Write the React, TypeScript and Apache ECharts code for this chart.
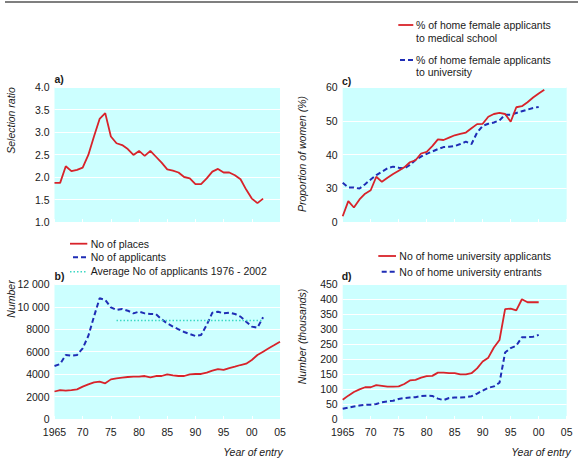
import React, { useEffect, useRef } from "react";
import * as echarts from "echarts";

// ---------- data ----------
const YEARS_A = [1965,1966,1967,1968,1969,1970,1971,1972,1973,1974,1975,1976,1977,1978,1979,1980,1981,1982,1983,1984,1985,1986,1987,1988,1989,1990,1991,1992,1993,1994,1995,1996,1997,1998,1999,2000,2001,2002];
const SELECTION_RATIO = [1.87,1.87,2.24,2.13,2.16,2.21,2.49,2.9,3.29,3.42,2.9,2.75,2.71,2.62,2.49,2.58,2.47,2.58,2.45,2.32,2.17,2.14,2.1,2.0,1.97,1.84,1.84,1.97,2.12,2.18,2.1,2.1,2.04,1.95,1.72,1.52,1.42,1.52];

const YEARS_PLACES = [1965,1966,1967,1968,1969,1970,1971,1972,1973,1974,1975,1976,1977,1978,1979,1980,1981,1982,1983,1984,1985,1986,1987,1988,1989,1990,1991,1992,1993,1994,1995,1996,1997,1998,1999,2000,2001,2002,2003,2004,2005];
const NO_OF_PLACES = [2450,2580,2530,2580,2640,2880,3090,3270,3330,3180,3530,3620,3680,3740,3770,3770,3830,3710,3830,3830,3980,3890,3830,3830,3980,4010,4010,4130,4310,4450,4370,4540,4660,4810,4930,5260,5700,6000,6300,6590,6890];
const YEARS_APPLICANTS = [1965,1966,1967,1968,1969,1970,1971,1972,1973,1974,1975,1976,1977,1978,1979,1980,1981,1982,1983,1984,1985,1986,1987,1988,1989,1990,1991,1992,1993,1994,1995,1996,1997,1998,1999,2000,2001,2002];
const NO_OF_APPLICANTS = [4720,4900,5700,5640,5700,6300,7400,9120,10750,10600,9950,9710,9800,9650,9410,9560,9410,9360,9330,8880,8520,8230,7990,7750,7570,7400,7480,8380,9470,9560,9410,9470,9360,9120,8670,8230,8140,9060];
const AVERAGE_YEARS = [1976, 2002];
const AVERAGE_APPLICANTS = [8780, 8780];

const YEARS_MED_FEMALE = [1965,1966,1967,1968,1969,1970,1971,1972,1973,1974,1975,1976,1977,1978,1979,1980,1981,1982,1983,1984,1985,1986,1987,1988,1989,1990,1991,1992,1993,1994,1995,1996,1997,1998,1999,2000,2001];
const PCT_FEMALE_MEDICAL = [21.7,26.2,24.3,26.7,28.4,29.4,33.4,31.9,33.1,34.2,35.2,36.2,37.7,38.3,40.3,40.8,42.5,44.5,44.3,45,45.7,46.1,46.5,47.8,49,49.1,51.2,52,52.3,52,49.7,54,54.3,55.5,56.9,58.1,59.2];
const YEARS_UNI = [1965,1966,1967,1968,1969,1970,1971,1972,1973,1974,1975,1976,1977,1978,1979,1980,1981,1982,1983,1984,1985,1986,1987,1988,1989,1990,1991,1992,1993,1994,1995,1996,1997,1998,1999,2000];
const PCT_FEMALE_UNIVERSITY = [31.6,30.2,30.2,29.9,31.2,32.6,33.9,34.9,35.9,36.4,36.1,35.9,36.9,38.4,39.4,40.2,40.9,41.6,42.2,42.3,42.5,43.1,43.8,43.1,46.5,48.5,49.1,49.5,50.1,51.8,51.8,52.3,52.8,53.3,53.8,54.1];

const YEARS_HOME_UNI = [1965,1966,1967,1968,1969,1970,1971,1972,1973,1974,1975,1976,1977,1978,1979,1980,1981,1982,1983,1984,1985,1986,1987,1988,1989,1990,1991,1992,1993,1994,1995,1996,1997,1998,1999,2000];
const UNI_APPLICANTS_K = [64,78,90,99,106,106,113,111,108,108,109,117,129,131,138,143,144,155,155,153,153,149,149,153,169,192,205,239,264,367,369,363,400,390,390,390];
const UNI_ENTRANTS_K = [34,38,42,45,47,48,50,56,59,61,67,70,72,73,77,78,77,68,63,70,72,72,73,76,85,95,104,109,121,222,237,245,273,273,275,281];

// tick label texts
const X_TICK_LABELS: Record<number, string> = { 1965: "1965", 1970: "70", 1975: "75", 1980: "80", 1985: "85", 1990: "90", 1995: "95", 2000: "00", 2005: "05" };
const B_TICK_LABELS: Record<number, string> = { 0: "0", 2000: "2000", 4000: "4000", 6000: "6000", 8000: "8000", 10000: "10 000", 12000: "12 000" };
const C_TICK_LABELS: Record<number, string> = { 20: "0", 30: "30", 40: "40", 50: "50", 60: "60" };

const pairs = (xs: number[], ys: number[]) => ys.map((v, i) => [xs[i], v]);

const FONT = "'Liberation Sans', Arial, Helvetica, sans-serif";
const RED = "#d8232a";
const BLUE = "#1f2db5";
const CYAN = "#3cd8c4";
const BG = "#ccffff";
const TXT = "#1a1a1a";
const DASH = [5, 3];
const DOT = [1.5, 2];

export default function App() {
  const ref = useRef<HTMLDivElement>(null);
  useEffect(() => {
    if (!ref.current) return;
    const chart = echarts.init(ref.current, undefined, { renderer: "svg" });

    const grids = [
      { left: 54.5, top: 87, width: 225.5, height: 135 },
      { left: 54.5, top: 284.3, width: 225.5, height: 134.7 },
      { left: 342.7, top: 87, width: 224, height: 135 },
      { left: 342.7, top: 284.3, width: 224, height: 134.7 },
    ].map((g) => ({ ...g, show: true, backgroundColor: BG, borderWidth: 0, containLabel: false }));

    const xAxisBase = (gi: number, showLabels: boolean) => ({
      type: "value",
      gridIndex: gi,
      min: 1965,
      max: 2005,
      interval: 5,
      axisLine: { show: false },
      axisTick: { show: true, inside: true, length: 3, lineStyle: { color: "#ffffff", width: 1 } },
      splitLine: { show: false },
      axisLabel: {
        show: showLabels,
        formatter: (v: number) => X_TICK_LABELS[v] ?? String(v),
        color: TXT,
        fontFamily: FONT,
        fontSize: 10.5,
        margin: 7,
      },
    });

    const yAxisBase = (gi: number, min: number, max: number, interval: number, fmt?: (v: number) => string) => ({
      type: "value",
      gridIndex: gi,
      min,
      max,
      interval,
      axisLine: { show: false },
      axisTick: { show: false },
      splitLine: { show: true, lineStyle: { color: "#ffffff", width: 1.2 } },
      axisLabel: {
        color: TXT,
        fontFamily: FONT,
        fontSize: 10.5,
        margin: 5,
        formatter: fmt ?? ((v: number) => String(v)),
      },
    });

    const line = (xi: number, data: number[][], color: string, type: any, width: number) => ({
      type: "line",
      xAxisIndex: xi,
      yAxisIndex: xi,
      data,
      showSymbol: false,
      symbol: "none",
      silent: true,
      lineStyle: { color, width, type },
    });

    const txt = (text: string, x: number, y: number, extra: any = {}) => ({
      type: "text",
      x,
      y,
      silent: true,
      style: {
        text,
        fill: TXT,
        font: `10.5px ${FONT}`,
        textAlign: "left",
        textVerticalAlign: "middle",
        ...extra,
      },
    });
    const rot = (text: string, x: number, y: number) => ({
      type: "text",
      x,
      y,
      rotation: Math.PI / 2,
      silent: true,
      style: {
        text,
        fill: TXT,
        font: `italic 10.5px ${FONT}`,
        textAlign: "center",
        textVerticalAlign: "middle",
      },
    });
    const seg = (x1: number, x2: number, y: number, color: string, dash: any, w: number) => ({
      type: "line",
      silent: true,
      shape: { x1, y1: y, x2, y2: y },
      style: { stroke: color, lineWidth: w, lineDash: dash },
    });

    const option: any = {
      animation: false,
      grid: grids,
      xAxis: [xAxisBase(0, false), xAxisBase(1, true), xAxisBase(2, false), xAxisBase(3, true)],
      yAxis: [
        yAxisBase(0, 1, 4, 0.5, (v: number) => v.toFixed(1)),
        yAxisBase(1, 0, 12000, 2000, (v: number) => B_TICK_LABELS[v] ?? String(v)),
        yAxisBase(2, 20, 60, 10, (v: number) => C_TICK_LABELS[v] ?? String(v)),
        yAxisBase(3, 0, 450, 50),
      ],
      series: [
        line(0, pairs(YEARS_A, SELECTION_RATIO), RED, "solid", 1.8),
        line(1, pairs(YEARS_PLACES, NO_OF_PLACES), RED, "solid", 1.8),
        line(1, pairs(YEARS_APPLICANTS, NO_OF_APPLICANTS), BLUE, DASH, 2),
        line(1, pairs(AVERAGE_YEARS, AVERAGE_APPLICANTS), CYAN, DOT, 1.6),
        line(2, pairs(YEARS_UNI, PCT_FEMALE_UNIVERSITY), BLUE, DASH, 2),
        line(2, pairs(YEARS_MED_FEMALE, PCT_FEMALE_MEDICAL), RED, "solid", 1.8),
        line(3, pairs(YEARS_HOME_UNI, UNI_ENTRANTS_K), BLUE, DASH, 2),
        line(3, pairs(YEARS_HOME_UNI, UNI_APPLICANTS_K), RED, "solid", 1.8),
      ],
      graphic: [
        { type: "line", silent: true, shape: { x1: 5, y1: 2, x2: 578, y2: 2 }, style: { stroke: "#555555", lineWidth: 1.5 } },
        // panel titles
        txt("a)", 54.5, 79, { font: `bold 10.5px ${FONT}` }),
        txt("b)", 54.5, 276, { font: `bold 10.5px ${FONT}` }),
        txt("c)", 342, 80.5, { font: `bold 10.5px ${FONT}` }),
        txt("d)", 341.7, 276, { font: `bold 10.5px ${FONT}` }),
        // axis names
        rot("Selection ratio", 10.5, 120.5),
        rot("Number", 10.5, 299),
        rot("Proportion of women (%)", 302, 154),
        rot("Number (thousands)", 302, 336.5),
        txt("Year of entry", 282.7, 451.7, { textAlign: "right", font: `italic 10.5px ${FONT}` }),
        txt("Year of entry", 570.7, 451.7, { textAlign: "right", font: `italic 10.5px ${FONT}` }),
        // legend b
        seg(70, 87.3, 243.7, RED, null, 1.8),
        txt("No of places", 90.7, 243.5),
        seg(73, 87.3, 257.3, BLUE, DASH, 2),
        txt("No of applicants", 90.7, 257),
        seg(70, 87.3, 271.7, CYAN, DOT, 1.6),
        txt("Average No of applicants 1976 - 2002", 90.7, 271.2),
        // legend c
        seg(398.3, 413.3, 25, RED, null, 1.8),
        txt("% of home female applicants", 416, 25),
        txt("to medical school", 416, 37.7),
        seg(400, 413.3, 60, BLUE, DASH, 2),
        txt("% of home female applicants", 416, 60),
        txt("to university", 416, 71.7),
        // legend d
        seg(378.3, 396, 256, RED, null, 1.8),
        txt("No of home university applicants", 399.3, 256),
        seg(381.7, 396, 271.7, BLUE, DASH, 2),
        txt("No of home university entrants", 399.3, 271.7),
      ],
    };
    chart.setOption(option);
    return () => chart.dispose();
  }, []);

  return (
    <div
      ref={ref}
      style={{ position: "fixed", left: 0, top: 0, width: 578, height: 462, background: "#ffffff" }}
    />
  );
}
